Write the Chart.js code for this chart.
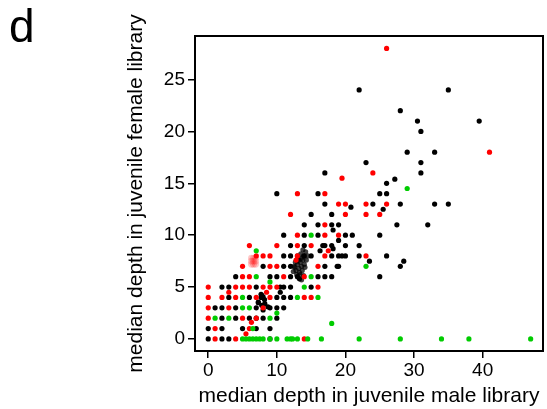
<!DOCTYPE html>
<html>
<head>
<meta charset="utf-8">
<script src="https://cdn.jsdelivr.net/npm/chart.js@4"></script>
<style>
  html, body { margin: 0; padding: 0; background: #fff; }
  #wrap { width: 547px; height: 409px; position: relative; }
</style>
</head>
<body>
<div id="wrap"><canvas id="depthChart"></canvas></div>
<script>
const xTicks = [0, 10, 20, 30, 40];
const yTicks = [0, 5, 10, 15, 20, 25];

// points shared by both libraries (black)
const blackPts = [
    [22, 24], [35, 24], [28, 22], [30.5, 21], [39.5, 21], [31, 20],
    [29, 18], [33, 18], [23, 17], [31, 17], [17, 16], [31, 16],
    [27.2, 15.4], [26, 15],
    [10, 14], [16, 14], [25, 14], [26, 14],
    [17, 13], [20.8, 12.7], [24, 13], [28, 13], [33, 13], [35, 13], [25.5, 12.5],
    [15, 12], [18, 12],
    [14, 11], [16, 11], [18, 11], [19, 11], [27.5, 11], [32, 11], [18.2, 10.5],
    [11, 10], [14, 10], [16, 10], [20, 10], [21, 10], [25, 10], [19, 9.5],
    [12, 9], [14, 9], [16.7, 9], [17, 9], [18, 9], [20, 9], [22, 9], [18.2, 8.7], [16.3, 8.5],
    [11, 8], [12, 8], [14, 8], [15, 8], [18, 8], [19, 8], [19.5, 8], [20, 8], [22, 8], [26, 8],
    [23.5, 7.5], [28.5, 7.5],
    [8, 7], [11, 7], [12, 7], [17, 7], [18.8, 7], [19, 7], [28, 7],
    [4, 6], [9, 6], [10, 6], [12, 6], [13, 6], [16, 6], [17, 6], [18, 6], [25, 6], [13.3, 5.8],
    [2, 5], [3, 5], [7, 5], [10.5, 5], [11, 5], [12, 5], [15, 5], [10.5, 4.5],
    [3, 4], [6, 4], [7.7, 4], [10, 4], [11, 4], [12, 4], [7.7, 4.3], [8.2, 3.8], [7.3, 3.5],
    [7.8, 4.2], [8, 4.05], [7.3, 3.56], [7.8, 3.25], [8.25, 3.4], [8.7, 3.1],
    [1, 3], [2, 3], [4, 3], [7, 3], [9, 3], [10, 3], [11, 3], [8, 2.8],
    [2, 2], [4, 2], [6, 2], [7, 2], [8, 2], [10, 2],
    [0, 1], [2, 1], [5, 1], [7, 1], [9, 1],
    [0, 0], [2, 0], [3, 0], [9, 0]
];

// dense pile near (13.5, 7)
const clusterPts = [
    [12.5, 7], [12.8, 6.6], [13, 7.2], [13.2, 6.8], [13.4, 7.4], [13.6, 7], [13.8, 7.6],
    [14, 7.2], [13.1, 7.8], [13.5, 8.2], [13.9, 8], [14.2, 8.4], [12.7, 7.4], [13.3, 6.4],
    [13.7, 6.6], [14.3, 7.6], [12.9, 6.2], [13.6, 7.8], [14.1, 6.9], [13.2, 7.6], [12.6, 6.9],
    [13.8, 8.6], [13, 8], [13.4, 6.2], [14.5, 8], [13.6, 5.7], [13.9, 6.1], [12.4, 6.5]
];

const redPts = [
    [26, 28], [41, 18], [24, 16], [19.5, 15.5],
    [13, 14], [17, 14],
    [19, 13], [20, 13], [23, 13], [26, 13],
    [12, 12], [20, 12], [23, 12], [25, 12],
    [17, 11],
    [13, 10], [17, 10], [19, 10],
    [6, 9], [10, 9], [13, 9], [15, 9], [17.5, 8.5],
    [7, 8], [8, 8], [9, 8], [13, 8], [17, 8], [23, 8],
    [5, 7], [9, 7], [10, 7], [16, 7], [12.8, 7.6],
    [5, 6], [6, 6], [11, 6], [14, 6],
    [0, 5], [4, 5], [5, 5], [6, 5], [8, 5], [9, 5], [10, 5], [16, 5], [3, 4.5], [8.5, 4.5],
    [0, 4], [2, 4], [4, 4], [7, 4], [9, 4], [14, 4], [15, 4],
    [0, 3], [3, 3], [8, 3],
    [0, 2], [5, 2], [7, 2],
    [6.3, 1.6],
    [1, 1], [6, 1],
    [5.5, 0.5],
    [1, 0], [4, 0], [14, 0]
];

// soft red pile near (6.6, 7.5)
const redBlobPts = [
    [6.3, 7.2], [6.6, 7.2], [6.9, 7.2], [6.3, 7.5], [6.6, 7.5],
    [6.9, 7.5], [6.3, 7.8], [6.6, 7.8], [6.9, 7.8]
];

const greenPts = [
    [29, 14.5], [15, 10], [7, 8.5], [23, 7],
    [7, 6], [15, 6], [9, 5.5], [14, 5],
    [5, 4], [13, 4], [16, 4],
    [5, 3], [6, 3], [10, 2.5],
    [1, 2], [3, 2], [9, 2],
    [18, 1.5], [6.5, 1],
    [5, 0], [5.5, 0], [6, 0], [6.5, 0], [7, 0], [7.5, 0], [8, 0], [9, 0], [10, 0],
    [11.5, 0], [12, 0], [12.3, 0], [13, 0], [14.5, 0], [16.5, 0], [22, 0], [28, 0],
    [34, 0], [38, 0], [47, 0]
];

const toXY = pts => pts.map(p => ({ x: p[0], y: p[1] }));

const family = "'Liberation Sans', Arial, Helvetica, sans-serif";
const tickFont = { family, size: 19 };
const titleFont = { family, size: 21 };

// frame box and panel letter
const framePlugin = {
    id: 'frame',
    afterDraw(chart) {
        const { ctx, chartArea: a } = chart;
        ctx.save();
        ctx.strokeStyle = '#000';
        ctx.lineWidth = 2;
        ctx.strokeRect(a.left, a.top, a.right - a.left, a.bottom - a.top);
        ctx.fillStyle = '#000';
        ctx.font = "46px 'Liberation Sans', Arial, sans-serif";
        ctx.textBaseline = 'alphabetic';
        ctx.fillText('d', 9, 42);
        ctx.restore();
    }
};

function dotSet(label, pts, color, order, radius) {
    return {
        label,
        data: toXY(pts),
        backgroundColor: color,
        borderWidth: 0,
        pointRadius: radius || 2.6,
        order
    };
}

new Chart(document.getElementById('depthChart'), {
    type: 'scatter',
    data: {
        datasets: [
            dotSet('black', blackPts, '#000000', 5),
            dotSet('cluster', clusterPts, 'rgba(0,0,0,0.75)', 4),
            dotSet('red', redPts, '#ff0000', 3),
            dotSet('red blob', redBlobPts, 'rgba(255,0,0,0.22)', 2, 3.4),
            dotSet('green', greenPts, '#00cc00', 1)
        ]
    },
    options: {
        responsive: true,
        maintainAspectRatio: false,
        animation: false,
        layout: { padding: { top: 36, right: 2, left: 0, bottom: 0 } },
        plugins: {
            legend: { display: false },
            tooltip: { enabled: false }
        },
        scales: {
            x: {
                type: 'linear',
                min: -1.93,
                max: 48.8,
                afterBuildTicks: s => { s.ticks = xTicks.map(v => ({ value: v })); },
                afterFit: s => { s.height = 58; },
                border: { display: false },
                grid: { drawOnChartArea: false, drawTicks: true, tickLength: 7, color: '#000', lineWidth: 1.5 },
                ticks: { color: '#000', font: tickFont, padding: 1, maxRotation: 0 },
                title: {
                    display: true,
                    text: 'median depth in juvenile male library',
                    color: '#000',
                    font: titleFont,
                    padding: { top: 0, bottom: 0 }
                }
            },
            y: {
                type: 'linear',
                min: -1.16,
                max: 29.2,
                afterBuildTicks: s => { s.ticks = yTicks.map(v => ({ value: v })); },
                afterFit: s => { s.width = 195; },
                border: { display: false },
                grid: { drawOnChartArea: false, drawTicks: true, tickLength: 7, color: '#000', lineWidth: 1.5 },
                ticks: { color: '#000', font: tickFont, padding: 3 },
                title: {
                    display: true,
                    text: 'median depth in juvenile female library',
                    color: '#000',
                    font: titleFont,
                    padding: { top: 124, bottom: 0 }
                }
            }
        }
    },
    plugins: [framePlugin]
});
</script>
</body>
</html>
